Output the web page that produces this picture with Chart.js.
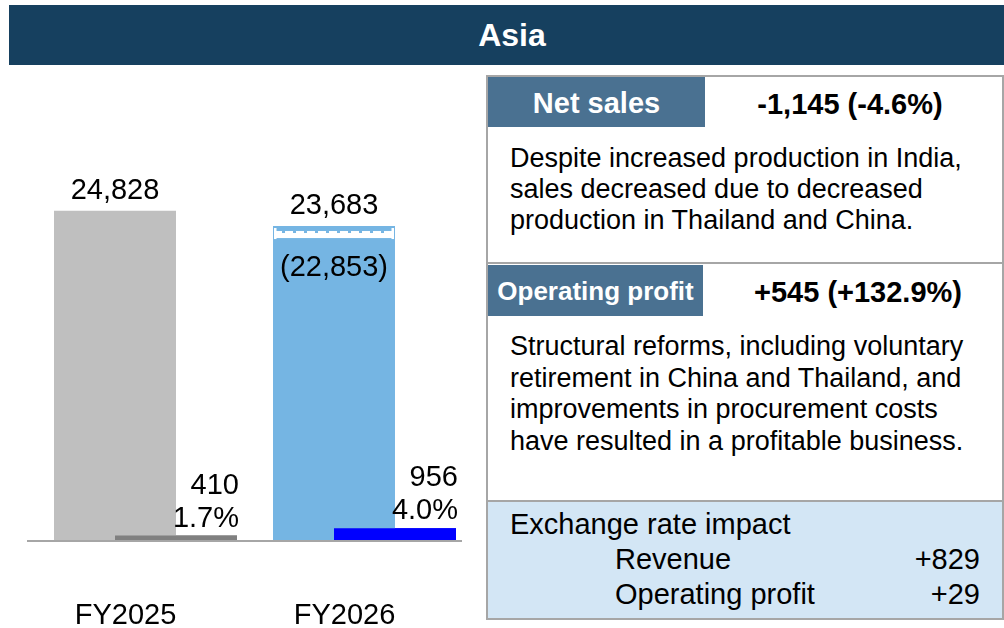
<!DOCTYPE html>
<html>
<head>
<meta charset="utf-8">
<title>Asia</title>
<script src="https://cdn.jsdelivr.net/npm/chart.js@4.4.0/dist/chart.umd.min.js"></script>
<style>
  body {
    margin: 0;
    width: 1004px;
    height: 628px;
    background: #fff;
    font-family: "Liberation Sans", Arial, sans-serif;
    position: relative;
    overflow: hidden;
  }
  .abs { position: absolute; white-space: nowrap; }
  #title {
    left: 9px; top: 5px; width: 984px; height: 60px; padding-left: 11px;
    background: #16405f; color: #fff;
    font-weight: bold; font-size: 32px; line-height: 60px; text-align: center;
  }
  #chartBox { left: 0; top: 70px; width: 480px; height: 558px; }
  #panel { left: 486px; top: 75px; width: 514px; height: 541px; border: 2px solid #a6a6a6; }
  .head {
    background: #4a7191; color: #fff; font-weight: bold; text-align: center;
  }
  .big { font-weight: bold; font-size: 29px; color: #000; }
  .desc { font-size: 27px; color: #000; }
  #fxBox { left: 488px; top: 500px; width: 514px; height: 116px; background: #d3e6f5; border-top: 2px solid #a6a6a6; }
  .fx { font-size: 29px; color: #000; line-height: 35px; }
</style>
</head>
<body>
<div id="title" class="abs">Asia</div>

<div id="chartBox" class="abs"><canvas id="regionChart"></canvas></div>

<div id="panel" class="abs"></div>
<div class="abs head" style="left:488px;top:77px;width:217px;height:50px;line-height:52px;font-size:29px;">Net sales</div>
<div class="abs big" style="left:705px;top:77px;width:290px;line-height:54px;text-align:center;">-1,145 (-4.6%)</div>
<div class="abs desc" style="left:510px;top:143px;line-height:31px;">Despite increased production in India,<br>sales decreased due to decreased<br>production in Thailand and China.</div>

<div class="abs" style="left:488px;top:262px;width:516px;height:2px;background:#a6a6a6;"></div>
<div class="abs head" style="left:488px;top:265px;width:215px;height:51px;line-height:53px;font-size:26px;">Operating profit</div>
<div class="abs big" style="left:713px;top:265px;width:290px;line-height:54px;text-align:center;">+545 (+132.9%)</div>
<div class="abs desc" style="left:510px;top:331px;line-height:31.7px;">Structural reforms, including voluntary<br>retirement in China and Thailand, and<br>improvements in procurement costs<br>have resulted in a profitable business.</div>

<div id="fxBox" class="abs"></div>
<div class="abs fx" style="left:510px;top:507px;">Exchange rate impact</div>
<div class="abs fx" style="left:615px;top:542px;">Revenue</div>
<div class="abs fx" style="left:880px;top:542px;width:100px;text-align:right;">+829</div>
<div class="abs fx" style="left:615px;top:577px;">Operating profit</div>
<div class="abs fx" style="left:880px;top:577px;width:100px;text-align:right;">+29</div>

<script>
// datos del grafico (millones de yenes)
const categories = ['FY2025', 'FY2026'];
const netSales = [24828, 23683];
const netSalesExFx = [24828, 22853];
const operatingProfit = [410, 956];
const marginLabels = ['1.7%', '4.0%'];
const yMax = 30000;

// parte del efecto cambiario encima de la barra de ventas
const fxPortion = netSales.map((v, i) => v - netSalesExFx[i]);

const fmt = v => v.toLocaleString('en-US');
const labelFont = '29px "Liberation Sans", Arial, sans-serif';
const skyBlue = '#75b5e3';

const barLabels = {
    id: 'barLabels',
    afterDatasetsDraw(chart) {
        const { ctx, scales: { x, y } } = chart;
        const base = y.getPixelForValue(0);
        const baseMeta = chart.getDatasetMeta(0);
        const fxMeta = chart.getDatasetMeta(1);
        const profitMeta = chart.getDatasetMeta(2);

        ctx.save();

        // las barras de beneficio van por encima de las de ventas
        profitMeta.data.forEach(el => el.draw(ctx));

        // franja punteada blanca del efecto cambiario
        fxMeta.data.forEach((el, i) => {
            if (fxPortion[i] <= 0) return;
            const left = el.x - el.width / 2;
            const right = el.x + el.width / 2;
            ctx.fillStyle = '#ffffff';
            ctx.fillRect(left + 1, el.y + 2, 2.5, el.base - el.y);
            ctx.fillRect(right - 3.5, el.y + 2, 2.5, el.base - el.y);
            ctx.fillRect(left + 1, el.y + 5, el.width - 2, el.base - el.y - 4);
            ctx.fillStyle = skyBlue;
            for (let px = left + 9; px < right - 6; px += 11) {
                ctx.fillRect(px, el.y + 5, 3, 2);
            }
        });

        // linea base
        ctx.strokeStyle = '#a6a6a6';
        ctx.lineWidth = 2;
        ctx.beginPath();
        ctx.moveTo(chart.chartArea.left - 9, base);
        ctx.lineTo(chart.chartArea.right - 12, base);
        ctx.stroke();

        ctx.fillStyle = '#000';
        ctx.font = labelFont;

        // ventas
        ctx.textAlign = 'center';
        ctx.textBaseline = 'alphabetic';
        fxMeta.data.forEach((el, i) => {
            ctx.fillText(fmt(netSales[i]), el.x, el.y - 12);
        });
        ctx.textBaseline = 'middle';
        baseMeta.data.forEach((el, i) => {
            if (fxPortion[i] <= 0) return;
            ctx.fillText('(' + fmt(netSalesExFx[i]) + ')', el.x, el.y + 31);
        });

        // beneficio operativo y margen
        ctx.textAlign = 'right';
        profitMeta.data.forEach((el, i) => {
            const right = el.x + el.width / 2 + 2;
            ctx.fillText(fmt(operatingProfit[i]), right, el.y - 50);
            ctx.fillText(marginLabels[i], right, el.y - 17);
        });

        // etiquetas del eje x
        ctx.textAlign = 'center';
        categories.forEach((c, i) => {
            ctx.fillText(c, x.getPixelForValue(i) - 20, base + 75);
        });

        ctx.restore();
    }
};

const ctx = document.getElementById('regionChart').getContext('2d');

new Chart(ctx, {
    type: 'bar',
    data: {
        labels: categories,
        datasets: [{
            label: 'Net sales',
            data: netSalesExFx,
            stack: 'sales',
            backgroundColor: ['#bfbfbf', skyBlue]
        }, {
            label: 'Exchange rate impact',
            data: fxPortion,
            stack: 'sales',
            backgroundColor: skyBlue
        }, {
            label: 'Operating profit',
            data: operatingProfit,
            stack: 'profit',
            backgroundColor: ['#808080', '#0000ff']
        }]
    },
    options: {
        responsive: true,
        maintainAspectRatio: false,
        animation: false,
        categoryPercentage: 0.557,
        barPercentage: 2,
        layout: {
            padding: { top: 72, right: 6, bottom: 87, left: 36 }
        },
        plugins: {
            legend: { display: false },
            tooltip: { enabled: false }
        },
        scales: {
            x: { stacked: true, display: false },
            y: { stacked: true, display: false, min: 0, max: yMax }
        }
    },
    plugins: [barLabels]
});
</script>
</body>
</html>
